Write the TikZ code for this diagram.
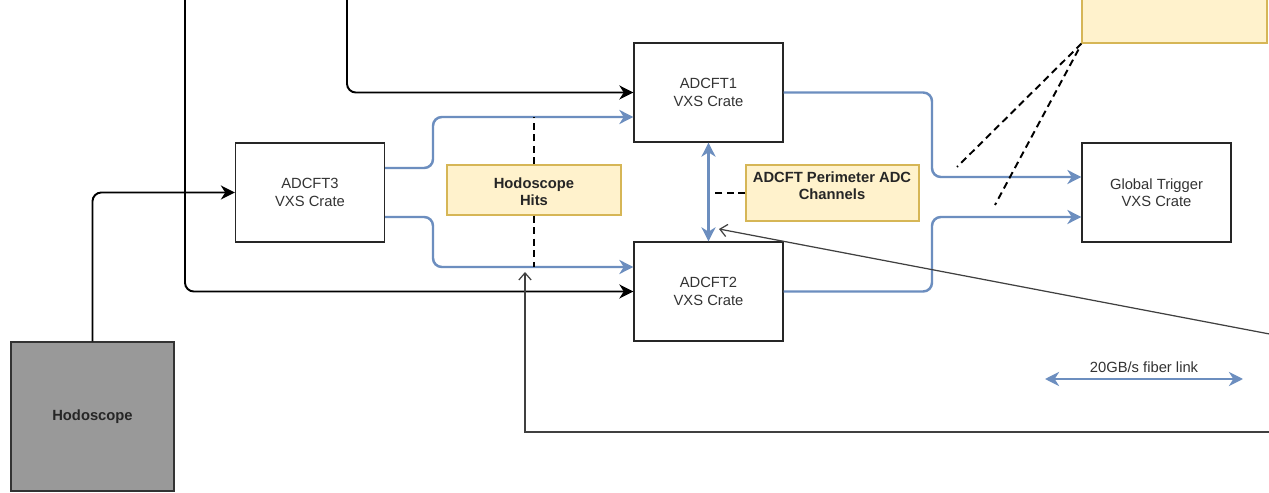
\documentclass[tikz,border=0pt]{standalone}
\usepackage{fontspec}
\setmainfont{Liberation Sans}
\usetikzlibrary{arrows.meta,calc}
\definecolor{blu}{HTML}{6C8EBF}
\definecolor{yfill}{HTML}{FFF2CC}
\definecolor{ydraw}{HTML}{D6B656}
\definecolor{hgray}{HTML}{999999}
\definecolor{txt}{HTML}{333333}
\begin{document}
\begin{tikzpicture}[x=0.02cm,y=-0.02cm,
  crate/.style={draw=black!85, line width=0.7pt, fill=white, minimum width=2.98cm, minimum height=1.98cm,
    align=center, text=txt, inner sep=0pt, font=\fontsize{8.4}{9.8}\selectfont},
  note/.style={draw=ydraw, fill=yfill, line width=0.6pt, inner sep=0pt},
  notetext/.style={align=center, text=black!85, inner sep=0pt, font=\bfseries\fontsize{8.4}{9.8}\selectfont},
  blk/.style={draw=black, line width=1.1pt, rounded corners=5pt, -{Stealth[length=8pt,width=8pt,inset=2.5pt]}},
  fib/.style={draw=blu, line width=1.4pt, rounded corners=5pt, -{Stealth[length=8pt,width=8pt,inset=2.5pt]}},
  fibboth/.style={draw=blu, line width=1.4pt, {Stealth[length=8pt,width=8pt,inset=2.5pt]}-{Stealth[length=8pt,width=8pt,inset=2.5pt]}},
  dsh/.style={draw=black, line width=1.1pt, dash pattern=on 4pt off 2.6pt},
  thn/.style={draw=black!75, line width=0.7pt, -{Straight Barb[length=4pt,width=7pt]}}
]
\useasboundingbox (0,0) rectangle (1269,493);
\fill[white] (0,0) rectangle (1269,493);
\clip (0,0) rectangle (1269,493);

% nodes
\node[crate] (a1) at (708.5,92.5) {ADCFT1\\VXS Crate};
\node[crate] (a2) at (708.5,291.5) {ADCFT2\\VXS Crate};
\node[crate] (a3) at (310,192.5) {ADCFT3\\VXS Crate};
\node[crate] (gt) at (1156.5,192.5) {Global Trigger\\VXS Crate};
\node[note, minimum width=3.48cm, minimum height=1cm] (hh) at (534,190) {};
\node[notetext] (hht) at (534,192) {Hodoscope\\Hits};
\node[note, minimum width=3.46cm, minimum height=1.12cm] (pa) at (832.5,193) {};
\node[notetext] (pat) at (832,186) {ADCFT Perimeter ADC\\Channels};
\node[note, minimum width=3.7cm, minimum height=1.4cm] (tr) at (1174.5,8) {};
\node[draw=black!80, fill=hgray, line width=0.7pt, minimum width=3.26cm, minimum height=2.98cm,
  text=black!85, font=\bfseries\fontsize{8.4}{9.8}\selectfont] (hodo) at (92.5,416.5) {Hodoscope};

% free ends
\coordinate (t1) at (185,-10);
\coordinate (t2) at (347,-10);
\coordinate (r1) at (1280,336);
\coordinate (r2) at (1280,432);
\coordinate (dtip) at (719,229);
\coordinate (htip) at (525,272);
\coordinate (d1) at (957,167);
\coordinate (d2) at (995,205);
\coordinate (l1) at (1045,379);
\coordinate (l2) at (1243,379);

% black control lines
\draw[blk] (t1) |- (a2.west);
\draw[blk] (t2) |- (a1.west);
\draw[blk] (hodo.north) |- (a3.west);

% fiber links
\draw[fib] ($(a3.east)+(0,-24.5)$) -- (433,168) |- ($(a1.west)+(0,24.5)$);
\draw[fib] ($(a3.east)+(0,24.5)$) -- (433,217) |- ($(a2.west)+(0,-24.5)$);
\draw[fib] (a1.east) -- (932,92.5) |- ($(gt.west)+(0,-15.5)$);
\draw[fib] (a2.east) -- (932,291.5) |- ($(gt.west)+(0,24.5)$);
\draw[fibboth] (a1.south) -- (a2.north);

% dashed
\draw[dsh] (hh.north) -- (hh.north |- 0,117.5);
\draw[dsh] (hh.south) -- (hh.south |- 0,267);
\draw[dsh] (pa.west) -- ++(-30,0);
\draw[dsh] (tr.south west) -- (d1);
\draw[dsh] ($(tr.south west)+(-3,6)$) -- (d2);

% thin arrows
\draw[thn] (r1) -- (dtip);
\draw[thn] (r2) -| (htip);

% legend
\draw[fibboth] (l1) -- (l2) node[midway, yshift=6.5pt, text=txt, inner sep=0pt, font=\fontsize{8.4}{9.8}\selectfont] (leg) {20GB/s fiber link};
\end{tikzpicture}
\end{document}
